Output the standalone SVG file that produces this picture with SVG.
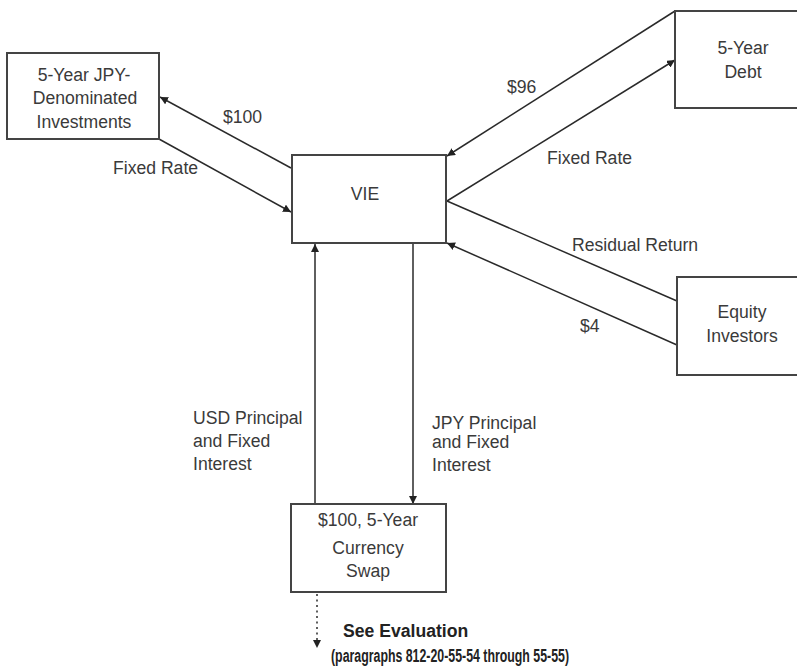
<svg xmlns="http://www.w3.org/2000/svg" width="797" height="666" viewBox="0 0 797 666">
<style>
.box{fill:#fff;stroke:#444;stroke-width:2}
.t{font-family:"Liberation Sans",Arial,sans-serif;font-size:17.6px;fill:#3a3a3a}
.c{text-anchor:middle}
.ln{stroke:#2a2a2a;stroke-width:1.5;fill:none}
.b{font-weight:bold;fill:#222}
</style>
<defs>
<marker id="ah" viewBox="0 0 10 10" refX="10" refY="5" markerWidth="8" markerHeight="8" markerUnits="userSpaceOnUse" orient="auto">
<path d="M0,0 L10,5 L0,10 z" fill="#222"/>
</marker>
</defs>
<rect width="797" height="666" fill="#fff"/>
<g id="connectors">
<line class="ln" x1="291" y1="168" x2="160" y2="97" marker-end="url(#ah)"/>
<line class="ln" x1="159" y1="139" x2="291" y2="212" marker-end="url(#ah)"/>
<line class="ln" x1="675" y1="11" x2="447" y2="156" marker-end="url(#ah)"/>
<line class="ln" x1="447" y1="201" x2="675" y2="60" marker-end="url(#ah)"/>
<line class="ln" x1="447" y1="201" x2="677" y2="301"/>
<line class="ln" x1="677" y1="345" x2="447" y2="243" marker-end="url(#ah)"/>
<line class="ln" x1="315" y1="504" x2="315" y2="244" marker-end="url(#ah)"/>
<line class="ln" x1="413" y1="243" x2="413" y2="504" marker-end="url(#ah)"/>
<line class="ln" x1="317" y1="594" x2="317" y2="648" stroke-dasharray="2,3.5" marker-end="url(#ah)"/>
</g>
<g id="jpy-investments">
<rect class="box" x="7" y="53" width="152" height="86"/>
<text class="t c" x="84" y="81" font-size="19">5-Year JPY-</text>
<text class="t c" x="85" y="104" font-size="19">Denominated</text>
<text class="t c" x="84" y="128" font-size="19">Investments</text>
</g>
<g id="vie">
<rect class="box" x="292" y="155" width="154" height="88"/>
<text class="t c" x="365" y="200" font-size="19.5">VIE</text>
</g>
<g id="debt">
<rect class="box" x="675" y="11" width="140" height="97"/>
<text class="t c" x="743" y="54">5-Year</text>
<text class="t c" x="743" y="78">Debt</text>
</g>
<g id="equity">
<rect class="box" x="677" y="277" width="140" height="98"/>
<text class="t c" x="742" y="318">Equity</text>
<text class="t c" x="742" y="342">Investors</text>
</g>
<g id="swap">
<rect class="box" x="291" y="504" width="155" height="88"/>
<text class="t c" x="368" y="526">$100, 5-Year</text>
<text class="t c" x="368" y="554">Currency</text>
<text class="t c" x="368" y="577">Swap</text>
</g>
<g id="labels">
<text class="t" x="223" y="123">$100</text>
<text class="t" x="113" y="174">Fixed Rate</text>
<text class="t" x="507" y="93">$96</text>
<text class="t" x="547" y="164">Fixed Rate</text>
<text class="t" x="572" y="251">Residual Return</text>
<text class="t" x="580" y="332">$4</text>
<text class="t" x="193" y="424">USD Principal</text>
<text class="t" x="193" y="447">and Fixed</text>
<text class="t" x="193" y="470">Interest</text>
<text class="t" x="432" y="429">JPY Principal</text>
<text class="t" x="432" y="448">and Fixed</text>
<text class="t" x="432" y="471">Interest</text>
<text class="t b" x="343" y="637" font-size="20.5">See Evaluation</text>
<text class="t b" x="331" y="662" font-size="13.5" textLength="238" lengthAdjust="spacingAndGlyphs">(paragraphs 812-20-55-54 through 55-55)</text>
</g>
</svg>
